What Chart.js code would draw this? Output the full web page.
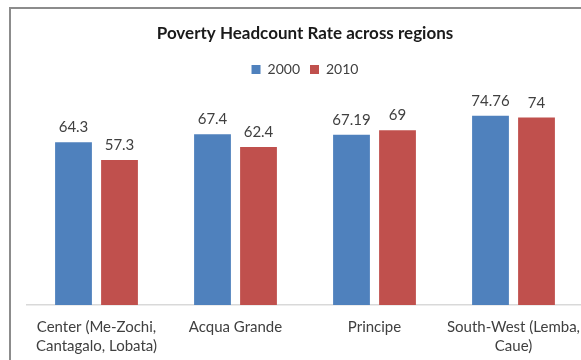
<!DOCTYPE html>
<html>
<head>
<meta charset="utf-8">
<title>Poverty Headcount Rate across regions</title>
<script src="https://cdn.jsdelivr.net/npm/chart.js@4/dist/chart.umd.min.js"></script>
<style>
  html, body { margin: 0; padding: 0; background: #fff; overflow: hidden; }
  body { width: 581px; height: 360px; position: relative; }
  #frame {
    position: absolute; left: 9px; top: 7px;
    width: 590px; height: 420px;
    border: 2px solid #8c8c8c;
    background: #fff;
  }
  #chart { display: block; }
</style>
</head>
<body>
<div id="frame"><canvas id="chart" width="590" height="370"></canvas></div>
<script>
const regions = [
  ['Center (Me-Zochi,', 'Cantagalo, Lobata)'],
  'Acqua Grande',
  'Principe',
  ['South-West (Lemba,', 'Caue)']
];
const rate2000 = [64.3, 67.4, 67.19, 74.76];
const rate2010 = [57.3, 62.4, 69, 74];
const seriesNames = ['2000', '2010'];

const FONT = 'Lato, "Open Sans", sans-serif';
const TEXT = '#404040';

// value labels above each bar
const barValues = {
  id: 'barValues',
  afterDatasetsDraw(chart) {
    const ctx = chart.ctx;
    ctx.save();
    ctx.font = '15px ' + FONT;
    ctx.fillStyle = TEXT;
    ctx.textAlign = 'center';
    ctx.textBaseline = 'alphabetic';
    chart.data.datasets.forEach((ds, i) => {
      chart.getDatasetMeta(i).data.forEach((bar, j) => {
        ctx.fillText(String(ds.data[j]), bar.x, bar.y - 10);
      });
    });
    ctx.restore();
  }
};

// extra room between the legend and the plot
const legendGap = {
  id: 'legendGap',
  beforeInit(chart) {
    const fit = chart.legend.fit;
    chart.legend.fit = function () {
      fit.call(this);
      this.height += 16;
    };
  }
};

new Chart(document.getElementById('chart'), {
  type: 'bar',
  data: {
    labels: regions,
    datasets: [
      { label: seriesNames[0], data: rate2000, backgroundColor: '#4f81bd' },
      { label: seriesNames[1], data: rate2010, backgroundColor: '#c0504d' }
    ]
  },
  options: {
    responsive: false,
    animation: false,
    devicePixelRatio: 1,
    layout: { padding: { left: 16, right: 18, top: 0, bottom: 11 } },
    datasets: { bar: { categoryPercentage: 0.662, barPercentage: 0.8 } },
    scales: {
      x: {
        grid: { display: false, drawTicks: false },
        border: { display: true, color: '#d9d9d9', width: 1.5 },
        ticks: { color: TEXT, font: { family: FONT, size: 15, lineHeight: 1.3 }, padding: 12, maxRotation: 0, autoSkip: false }
      },
      y: { display: false, min: 0, max: 80 }
    },
    plugins: {
      title: {
        display: true,
        text: 'Poverty Headcount Rate across regions',
        color: '#1a1a1a',
        font: { family: FONT, size: 17, weight: 'bold' },
        padding: { top: 14, bottom: 9 }
      },
      legend: {
        position: 'top',
        labels: { boxWidth: 9, boxHeight: 9, padding: 10, color: TEXT, font: { family: FONT, size: 14 } }
      },
      tooltip: { enabled: false }
    }
  },
  plugins: [barValues, legendGap]
});
</script>
</body>
</html>
